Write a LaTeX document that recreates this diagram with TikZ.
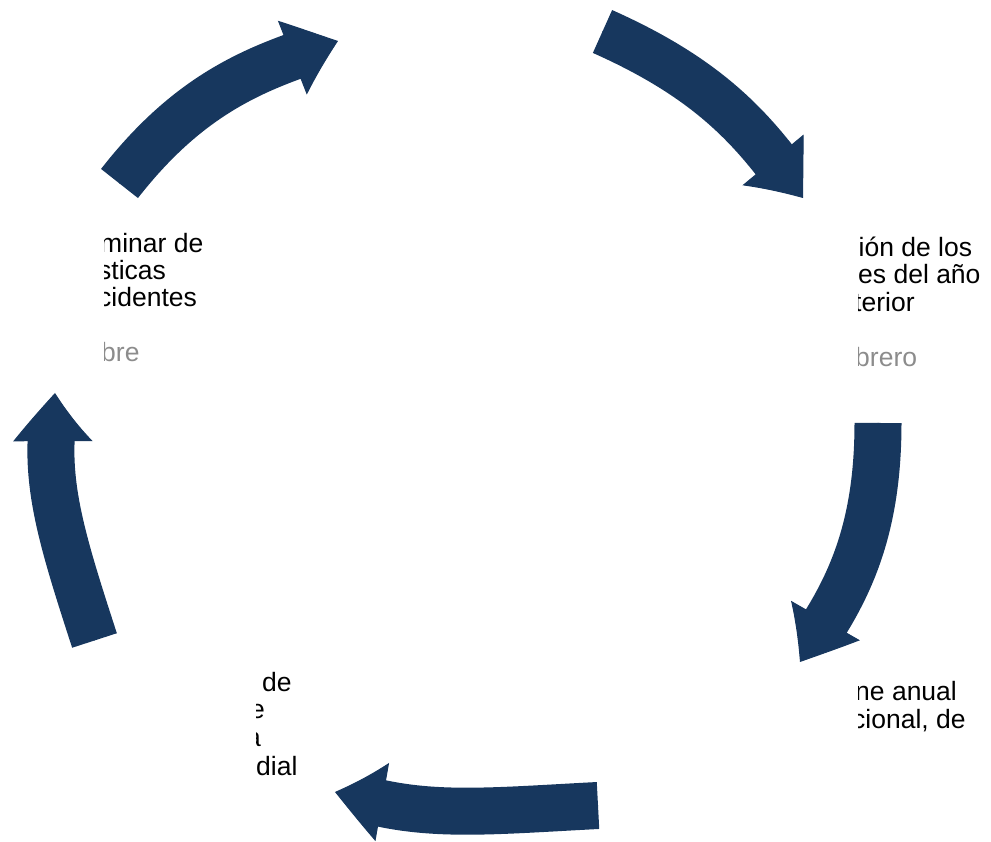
\documentclass[tikz,border=0pt]{standalone}
\usepackage{fontspec}
\setmainfont{Liberation Sans}
\usetikzlibrary{arrows.meta,bending}
\definecolor{navy}{RGB}{23,55,94}
\definecolor{datecol}{RGB}{140,140,140}

\begin{document}
\begin{tikzpicture}[x=1pt, y=1pt,
    armbody/.style = {navy, line width=47pt, shorten >=36pt},
    armhead/.style = {navy, line width=1pt, -{Triangle[length=51pt, width=79pt, bend]}},
    steptext/.style = {anchor=base west, inner sep=0pt, font=\fontsize{26.5}{27}\selectfont},
    datetext/.style = {steptext, text=datecol}]
    \useasboundingbox (0,0) rectangle (991,842);
    % the five arrows of the cycle
    \coordinate (tail1) at (119.5,658.5); \coordinate (tip1) at (338,801);
    \coordinate (tail2) at (602.5,810.5); \coordinate (tip2) at (803,644);
    \coordinate (tail3) at (878,419);     \coordinate (tip3) at (800,180);
    \coordinate (tail4) at (598,36.5);    \coordinate (tip4) at (335,50);
    \coordinate (tail5) at (94.5,201.5);  \coordinate (tip5) at (55,449);
    \foreach \i/\o/\n in {1/52/199, 2/-24/127, 3/-90/57, 4/183/-14, 5/108/-95} {
        \draw[armbody] (tail\i) to[out=\o, in=\n] (tip\i);
        \draw[armhead] (tail\i) to[out=\o, in=\n] (tip\i);
    }
    % texts, cut on their left side
    \begin{scope}
        \clip (104,465) rectangle (260,615);
        \node[steptext] (left1) at (100,589.5) {minar de};
        \node[steptext] (left2) at (98,562.5) {sticas};
        \node[steptext] (left3) at (98,535.5) {cidentes};
        \node[datetext] (leftdate) at (101,480.5) {bre};
    \end{scope}
    \begin{scope}
        \clip (858,460) rectangle (991,615);
        \node[steptext] (right1) at (858.5,585) {ión de los};
        \node[steptext] (right2) at (858,558) {es del año};
        \node[steptext] (right3) at (854,530) {terior};
        \node[datetext] (rightdate) at (855,475) {brero};
    \end{scope}
    \begin{scope}
        \clip (858,100) rectangle (991,170);
        \node[steptext] (lowright1) at (855,141) {ne anual};
        \node[steptext] (lowright2) at (852,113) {cional, de};
    \end{scope}
    \begin{scope}
        \clip (256,55) rectangle (320,175);
        \node[steptext] (lowleft1) at (262,150) {de};
        \node[steptext] (lowleft2) at (250,123) {e};
        \node[steptext] (lowleft3) at (246,95) {a};
        \node[steptext] (lowleft4) at (256,66) {dial};
    \end{scope}
\end{tikzpicture}
\end{document}
